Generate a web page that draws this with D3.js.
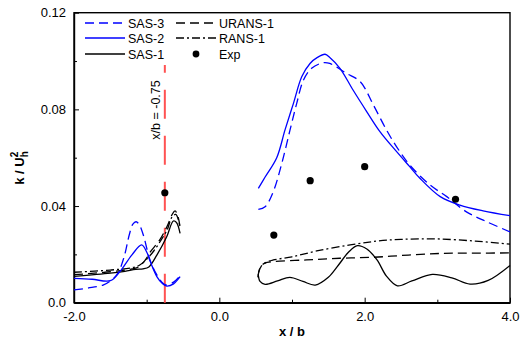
<!DOCTYPE html>
<html><head><meta charset="utf-8">
<script src="https://cdn.jsdelivr.net/npm/d3@7"></script>
<style>body{margin:0;background:#fff}svg{display:block;font-family:"Liberation Sans",Arial,sans-serif}</style>
</head><body><svg id="c" width="527" height="341"></svg>
<script>
// ---- data (x/b, k/Uh^2) ----
const xTicks = [-2, 0, 2, 4];
const xTickLabels = ["-2.0", "0.0", "2.0", "4.0"];
const xMinor = [-1, 1, 3];
const yTicks = [0, 0.04, 0.08, 0.12];
const yTickLabels = ["0.0", "0.04", "0.08", "0.12"];
const yMinor = [0.02, 0.06, 0.10];
const seriesNames = ["SAS-3", "SAS-2", "SAS-1", "URANS-1", "RANS-1", "Exp"];
const markerX = -0.75;

const sas3Left = [[-2,0.0053],[-1.8,0.0061],[-1.6,0.0073],[-1.5,0.009],[-1.4,0.012],[-1.31,0.019],[-1.24,0.028],[-1.19,0.0325],[-1.146,0.0335],[-1.1,0.0322],[-1.046,0.028],[-0.954,0.0177],[-0.86,0.0115],[-0.78,0.0082],[-0.724,0.0073],[-0.63,0.0085],[-0.54,0.0112]];
const sas3Right = [[0.537,0.0386],[0.63,0.0397],[0.743,0.046],[0.86,0.0577],[0.973,0.0715],[1.065,0.0825],[1.156,0.092],[1.27,0.097],[1.43,0.0993],[1.52,0.099],[1.75,0.0949],[1.94,0.0914],[2.12,0.0818],[2.30,0.0715],[2.44,0.0645],[2.62,0.057],[2.90,0.0487],[3.13,0.0439],[3.40,0.0376],[3.68,0.0335],[4.0,0.0293]];
const sas2Left = [[-2,0.0101],[-1.75,0.0097],[-1.5,0.0091],[-1.37,0.0128],[-1.205,0.0197],[-1.07,0.0239],[-1.0,0.021],[-0.95,0.017],[-0.86,0.0108],[-0.78,0.0078],[-0.724,0.0069],[-0.63,0.0078],[-0.54,0.0108]];
const sas2Right = [[0.537,0.0473],[0.63,0.052],[0.79,0.060],[0.904,0.0715],[1.02,0.0825],[1.134,0.0935],[1.248,0.099],[1.35,0.1015],[1.455,0.1028],[1.52,0.1015],[1.66,0.097],[1.84,0.088],[2.03,0.079],[2.21,0.0708],[2.44,0.0625],[2.62,0.0563],[2.76,0.0515],[3.04,0.0439],[3.31,0.0404],[3.63,0.038],[4.0,0.036]];
const sas1Left = [[-2,0.0109],[-1.5,0.0122],[-1.3,0.013],[-1.15,0.0138],[-1.05,0.014],[-0.97,0.0148],[-0.86,0.0197],[-0.724,0.0273],[-0.633,0.0338],[-0.59,0.0332],[-0.54,0.0287]];
const sas1Right = [[0.535,0.0118],[0.56,0.0088],[0.63,0.0076],[0.8,0.009],[0.97,0.0105],[1.15,0.0088],[1.32,0.0073],[1.5,0.0105],[1.64,0.0156],[1.78,0.021],[1.9,0.0236],[2.03,0.0222],[2.17,0.0177],[2.3,0.011],[2.45,0.0070],[2.65,0.0090],[2.93,0.0117],[3.2,0.0103],[3.45,0.0077],[3.7,0.0092],[4.0,0.0154]];
const uransLeft = [[-2,0.0116],[-1.5,0.0128],[-1.2,0.014],[-1.1,0.015],[-1.0,0.0185],[-0.95,0.021],[-0.82,0.026],[-0.72,0.0315],[-0.65,0.0365],[-0.61,0.038],[-0.57,0.0358],[-0.54,0.031]];
const uransRight = [[0.53,0.0105],[0.56,0.0145],[0.62,0.0163],[0.743,0.017],[1.2,0.0177],[1.66,0.0184],[2.12,0.0188],[2.6,0.0197],[3.06,0.0204],[3.5,0.0205],[4.0,0.0206]];
const ransLeft = [[-2,0.0126],[-1.5,0.0135],[-1.2,0.0145],[-1.1,0.0155],[-1.0,0.018],[-0.9,0.0215],[-0.8,0.026],[-0.72,0.030],[-0.65,0.0355],[-0.6,0.0365],[-0.56,0.034],[-0.54,0.031]];
const ransRight = [[0.54,0.0125],[0.58,0.0152],[0.65,0.0168],[0.743,0.0177],[1.0,0.019],[1.34,0.0214],[1.8,0.0239],[2.17,0.0255],[2.5,0.0262],[2.97,0.0264],[3.52,0.0255],[4.0,0.0242]];
const expX = [-0.75, 0.75, 1.25, 2.0, 3.25];
const expK = [0.0455, 0.028, 0.0505, 0.0563, 0.0428];

// ---- layout ----
const L = 74, R = 510, T = 12.7, B = 302.7;
const svg = d3.select("#c");
const x = d3.scaleLinear().domain([-2, 4]).range([L, R]);
const y = d3.scaleLinear().domain([0, 0.12]).range([B, T]);
const BLUE = "#0000ff", RED = "#ff5252";
const styles = {
  "SAS-3": {c: BLUE, d: "9,5"},
  "SAS-2": {c: BLUE, d: null},
  "SAS-1": {c: "#000", d: null},
  "URANS-1": {c: "#000", d: "9,5"},
  "RANS-1": {c: "#000", d: "8,3,2,3"}
};

// frame
svg.append("rect").attr("x", L).attr("y", T).attr("width", R - L).attr("height", B - T)
  .attr("fill", "none").attr("stroke", "#000").attr("stroke-width", 1.4);

// axes
const xAxis = d3.axisBottom(x).tickValues(xTicks).tickFormat((d, i) => xTickLabels[i]).tickSizeInner(-5).tickSizeOuter(0).tickPadding(9);
const gx = svg.append("g").attr("transform", `translate(0,${B})`).call(xAxis);
gx.select(".domain").attr("stroke-width", 1.4);
gx.selectAll("text").attr("font-size", 13).attr("fill", "#000");
svg.append("g").attr("transform", `translate(0,${B})`).call(d3.axisBottom(x).tickValues(xMinor).tickFormat("").tickSizeInner(-3).tickSizeOuter(0)).select(".domain").remove();

const yAxis = d3.axisLeft(y).tickValues(yTicks).tickFormat((d, i) => yTickLabels[i]).tickSizeInner(-5).tickSizeOuter(0).tickPadding(8);
const gy = svg.append("g").attr("transform", `translate(${L},0)`).call(yAxis);
gy.select(".domain").attr("stroke-width", 1.4);
gy.selectAll("text").attr("font-size", 13).attr("fill", "#000");
svg.append("g").attr("transform", `translate(${L},0)`).call(d3.axisLeft(y).tickValues(yMinor).tickFormat("").tickSizeInner(-3).tickSizeOuter(0)).select(".domain").remove();

// red marker line
svg.append("line").attr("x1", x(markerX)).attr("x2", x(markerX)).attr("y1", B).attr("y2", 65)
  .attr("stroke", RED).attr("stroke-width", 2).attr("stroke-dasharray", "29,17");
svg.append("text").attr("transform", `translate(${x(markerX) - 5},110) rotate(-90)`)
  .attr("text-anchor", "middle").attr("font-size", 12.5).text("x/b = -0.75");

// curves
const line = d3.line().x(d => x(d[0])).y(d => y(d[1])).curve(d3.curveCatmullRom.alpha(0.5));
const curves = [
  ["RANS-1", ransLeft], ["RANS-1", ransRight],
  ["URANS-1", uransLeft], ["URANS-1", uransRight],
  ["SAS-1", sas1Left], ["SAS-1", sas1Right],
  ["SAS-2", sas2Left], ["SAS-2", sas2Right],
  ["SAS-3", sas3Left], ["SAS-3", sas3Right]
];
curves.forEach(([name, data]) => {
  const s = styles[name];
  svg.append("path").attr("d", line(data)).attr("fill", "none")
    .attr("stroke", s.c).attr("stroke-width", 1.3).attr("stroke-dasharray", s.d);
});

// experiment
svg.selectAll("circle.exp").data(expX).enter().append("circle").attr("class", "exp")
  .attr("cx", d => x(d)).attr("cy", (d, i) => y(expK[i])).attr("r", 3.6).attr("fill", "#000");

// legend
const legCols = [[85, 125, 128], [176, 216, 219]];
const legRows = [23, 38, 54];
const legOrder = [["SAS-3", 0, 0], ["SAS-2", 0, 1], ["SAS-1", 0, 2], ["URANS-1", 1, 0], ["RANS-1", 1, 1], ["Exp", 1, 2]];
legOrder.forEach(([name, c, r]) => {
  const [x1, x2, tx] = legCols[c];
  const yy = legRows[r];
  if (name === "Exp") {
    svg.append("circle").attr("cx", (x1 + x2) / 2).attr("cy", yy).attr("r", 3.4).attr("fill", "#000");
  } else {
    const s = styles[name];
    svg.append("line").attr("x1", x1).attr("x2", x2).attr("y1", yy).attr("y2", yy)
      .attr("stroke", s.c).attr("stroke-width", 1.3).attr("stroke-dasharray", s.d);
  }
  svg.append("text").attr("x", tx).attr("y", yy + 4.5).attr("font-size", 12.5).text(name);
});

// axis titles
svg.append("text").attr("x", (L + R) / 2 + 0).attr("y", 336).attr("text-anchor", "middle")
  .attr("font-size", 13).attr("font-weight", "bold").text("x / b");
const yt = svg.append("text").attr("transform", "translate(24,168) rotate(-90)")
  .attr("text-anchor", "middle").attr("font-size", 13).attr("font-weight", "bold");
yt.append("tspan").text("k / U");
yt.append("tspan").attr("font-size", 10).attr("dy", 4).text("h");
yt.append("tspan").attr("font-size", 10).attr("dx", -6).attr("dy", -10).text("2");
</script></body></html>
